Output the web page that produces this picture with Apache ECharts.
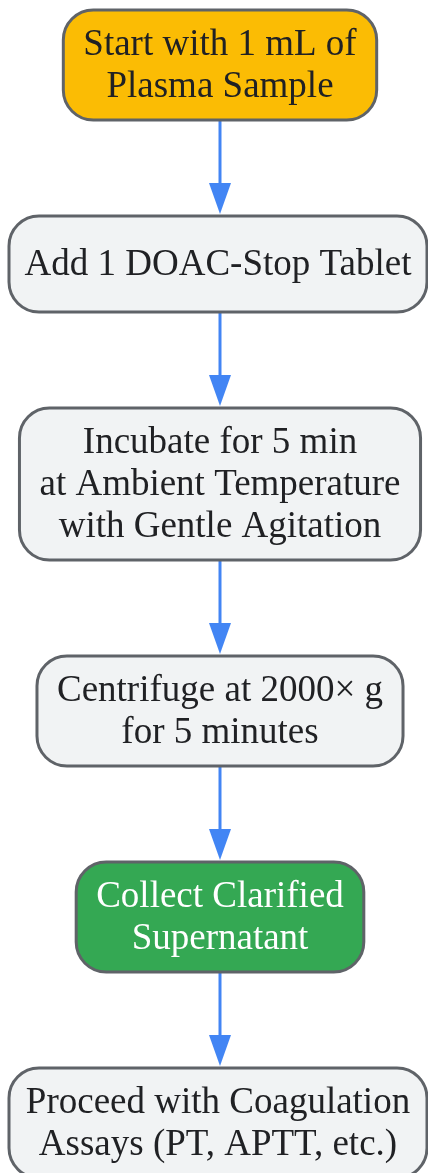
<!DOCTYPE html>
<html>
<head>
<meta charset="utf-8">
<script src="https://cdn.jsdelivr.net/npm/echarts@6/dist/echarts.min.js"></script>
<style>
html, body { margin: 0; padding: 0; background: #fff; }
#chart { width: 428px; height: 1173px; }
</style>
</head>
<body>
<div id="chart"></div>
<script>
// flow steps, top to bottom
const steps = [
  'Start with 1 mL of\nPlasma Sample',
  'Add 1 DOAC-Stop Tablet',
  'Incubate for 5 min\nat Ambient Temperature\nwith Gentle Agitation',
  'Centrifuge at 2000× g\nfor 5 minutes',
  'Collect Clarified\nSupernatant',
  'Proceed with Coagulation\nAssays (PT, APTT, etc.)'
]
const stepKinds = ['start', 'process', 'process', 'process', 'result', 'process']
const links = [[0, 1], [1, 2], [2, 3], [3, 4], [4, 5]]

const W = 428, H = 1173
const FONT = '37px "Liberation Serif", "Times New Roman", serif'
const LINE_H = 42
const GAP = 96
const FILL = { start: '#fbbc04', process: '#f1f3f4', result: '#34a853' }
const INK = { start: '#202124', process: '#202124', result: '#ffffff' }
const ARROW = '#4285f4'

// box sizes follow the text, like the original layout engine
const ctx = document.createElement('canvas').getContext('2d')
ctx.font = FONT
let cursor = 10
const boxes = steps.map(label => {
  const lines = label.split('\n')
  const tw = Math.max(...lines.map(l => ctx.measureText(l).width))
  const w = Math.min(tw + 40, 418)
  const h = Math.max(lines.length * LINE_H + 26, 96)
  // wide boxes get pushed left so the right border stays visible
  const box = { cx: Math.min(220, 427 - w / 2), top: cursor, w, h }
  cursor += h + GAP
  return box
})

function renderBox(params, api) {
  const i = api.value(0)
  const b = boxes[i]
  const p0 = api.coord([b.cx - b.w / 2, b.top])
  const p1 = api.coord([b.cx + b.w / 2, b.top + b.h])
  const kind = stepKinds[i]
  return {
    type: 'group',
    children: [
      {
        type: 'rect',
        shape: { x: p0[0], y: p0[1], width: p1[0] - p0[0], height: p1[1] - p0[1], r: 30 },
        style: { fill: FILL[kind], stroke: '#5f6368', lineWidth: 3 }
      },
      {
        type: 'text',
        style: {
          text: steps[i],
          x: (p0[0] + p1[0]) / 2,
          y: (p0[1] + p1[1]) / 2 + 1,
          align: 'center',
          verticalAlign: 'middle',
          font: FONT,
          lineHeight: LINE_H,
          fill: INK[kind]
        }
      }
    ]
  }
}

function renderArrow(params, api) {
  const a = boxes[api.value(0)]
  const b = boxes[api.value(1)]
  const from = api.coord([220, a.top + a.h])
  const tip = api.coord([220, b.top - 2])
  const head = api.coord([220, b.top - 33])
  return {
    type: 'group',
    children: [
      {
        type: 'line',
        shape: { x1: from[0], y1: from[1], x2: head[0], y2: head[1] + 4 },
        style: { stroke: ARROW, lineWidth: 3 }
      },
      {
        type: 'polygon',
        shape: { points: [[tip[0], tip[1]], [head[0] - 11, head[1]], [head[0] + 11, head[1]]] },
        style: { fill: ARROW }
      }
    ]
  }
}

const chart = echarts.init(document.getElementById('chart'), null, { renderer: 'canvas' })
chart.setOption({
  animation: false,
  grid: { left: 0, right: 0, top: 0, bottom: 0 },
  xAxis: { type: 'value', min: 0, max: W, show: false },
  yAxis: { type: 'value', min: 0, max: H, inverse: true, show: false },
  series: [
    {
      type: 'custom',
      renderItem: renderArrow,
      data: links,
      z: 1
    },
    {
      type: 'custom',
      renderItem: renderBox,
      data: steps.map((s, i) => [i]),
      z: 2
    }
  ]
})
</script>
</body>
</html>
